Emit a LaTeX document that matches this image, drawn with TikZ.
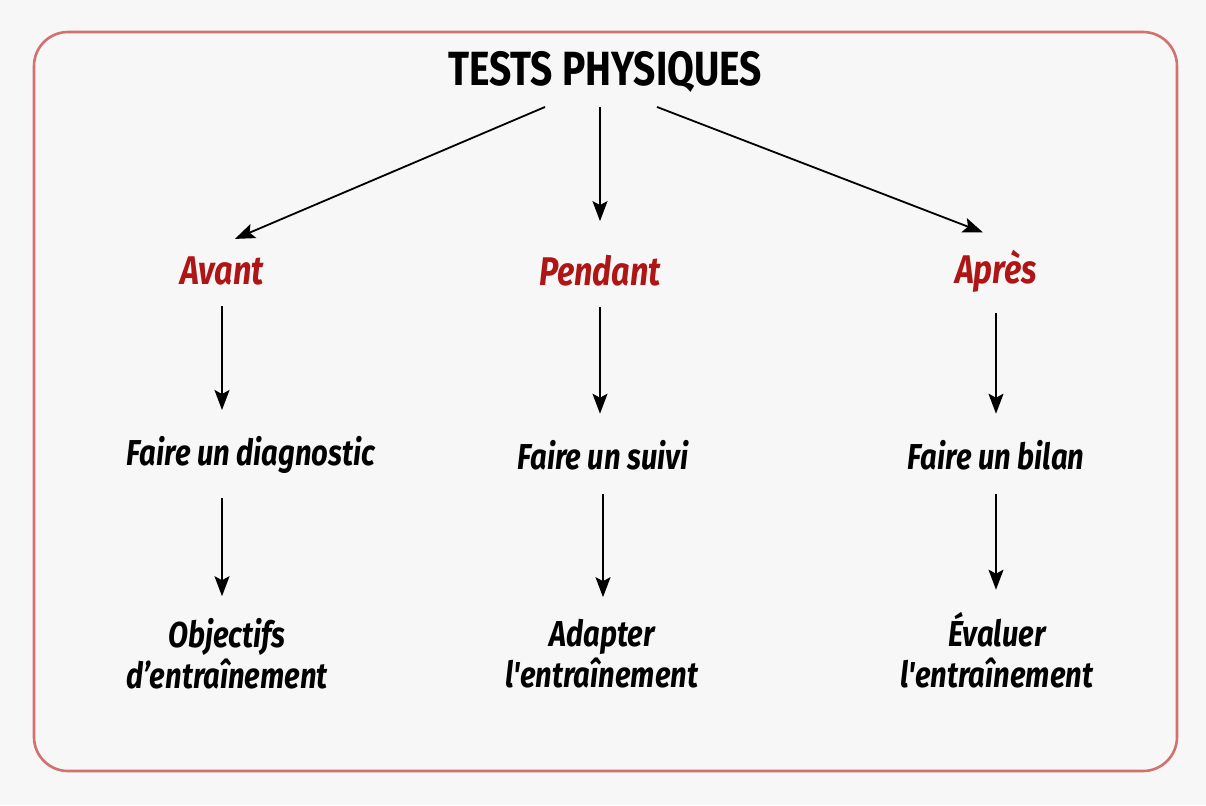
\documentclass[tikz,border=0pt]{standalone}
\usepackage{fontspec}
\setmainfont{Fira Sans}
\newfontfamily\titlefont[FakeStretch=0.81]{Fira Sans}
\newfontfamily\labelfont[FakeStretch=0.81]{Fira Sans}
\usepackage{xcolor}
\usetikzlibrary{arrows.meta,positioning}
\definecolor{pagebg}{HTML}{F7F7F7}
\definecolor{framered}{HTML}{D2716E}
\definecolor{phasered}{HTML}{B01515}

\begin{document}
\begin{tikzpicture}[
    x=0.5pt, y=-0.5pt,
    flow/.style={-{Stealth[length=10pt, width=7.5pt, inset=2pt]}, line width=0.9pt, draw=black},
    heading/.style={inner sep=0pt, font=\titlefont\fontsize{24}{26}\selectfont\bfseries},
    phase/.style={inner sep=0pt, text=phasered, font=\labelfont\fontsize{20}{22}\selectfont\bfseries\itshape},
    action/.style={inner sep=0pt, align=center, font=\labelfont\fontsize{18}{20.5}\selectfont\bfseries\itshape}
]
\fill[pagebg] (0,0) rectangle (1206,805);
\useasboundingbox (0,0) rectangle (1206,805);
\draw[framered, line width=1.3pt, rounded corners=17pt] (34,32) rectangle (1177,771);

\node[heading] (title) at (605,72) {TESTS PHYSIQUES};

\node[phase] (avant) at (222,271) {Avant};
\node[phase] (pendant) at (600,271) {Pendant};
\node[phase] (apres) at (996,271) {Après};

\node[action] (diag) at (251,455) {Faire un diagnostic};
\node[action] (suivi) at (603,455) {Faire un suivi};
\node[action] (bilan) at (996,455) {Faire un bilan};

\node[action] (objectifs) at (227,654) {Objectifs\\d’entraînement};
\node[action] (adapter) at (602,654) {Adapter\\l'entraînement};
\node[action] (evaluer) at (997,650) {Évaluer\\l'entraînement};

\draw[flow, shorten >=7pt] ([xshift=-30pt,yshift=-7pt]title.south) -- ([yshift=6pt]avant.north);
\draw[flow, shorten <=7pt, shorten >=17pt] (title.south -| pendant.north) -- (pendant.north);
\draw[flow, shorten >=7pt] ([xshift=26pt,yshift=-7pt]title.south) -- ([yshift=6pt]apres.north);

\draw[flow, shorten <=10pt, shorten >=13pt] (avant.south) -- (avant.south |- diag.north);
\draw[flow, shorten <=10pt, shorten >=13pt] (pendant.south) -- (pendant.south |- suivi.north);
\draw[flow, shorten <=10pt, shorten >=13pt] (apres.south) -- (apres.south |- bilan.north);

\draw[flow, shorten <=12pt, shorten >=11pt] (avant.south |- diag.south) -- (avant.south |- objectifs.north);
\draw[flow, shorten <=12pt, shorten >=11pt] (suivi.south) -- (suivi.south |- adapter.north);
\draw[flow, shorten <=12pt, shorten >=11pt] (bilan.south) -- (bilan.south |- evaluer.north);
\end{tikzpicture}
\end{document}
